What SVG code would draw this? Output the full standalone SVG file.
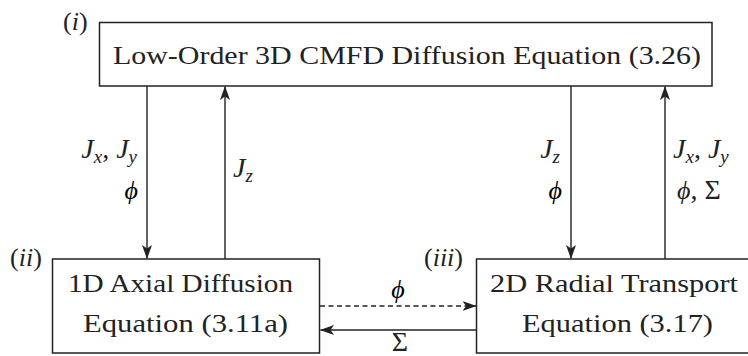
<svg xmlns="http://www.w3.org/2000/svg" width="748" height="356" viewBox="0 0 748 356">
<style>
  .box { fill: #fff; stroke: #222; stroke-width: 1.5; }
  .t { font-family: "Liberation Serif", "Times New Roman", serif; font-size: 26px; fill: #222; }
  .m { font-family: "Liberation Serif", "Times New Roman", serif; font-size: 28px; fill: #222; }
  .it { font-style: italic; }
  .sub { font-style: italic; font-size: 19px; }
  .phi { font-family: "Liberation Serif", "DejaVu Serif", serif; font-style: italic; font-size: 26px; }
  .conn { stroke: #222; stroke-width: 1.4; fill: none; }
  .dash { stroke-dasharray: 5 3.5; }
</style>
<defs>
  <marker id="ah" viewBox="0 0 14 12" markerWidth="14" markerHeight="12" refX="13.5" refY="6" orient="auto" markerUnits="userSpaceOnUse">
    <path d="M0,1 L14,6 L0,11 L3.5,6 Z" fill="#222"/>
  </marker>
</defs>

<g id="connectors">
  <line class="conn" x1="147" y1="86" x2="147" y2="258.5" marker-end="url(#ah)"/>
  <line class="conn" x1="225" y1="259" x2="225" y2="86.5" marker-end="url(#ah)"/>
  <line class="conn" x1="571" y1="86" x2="571" y2="258.5" marker-end="url(#ah)"/>
  <line class="conn" x1="665" y1="259" x2="665" y2="86.5" marker-end="url(#ah)"/>
  <line class="conn dash" x1="320" y1="306" x2="476" y2="306" marker-end="url(#ah)"/>
  <line class="conn" x1="476" y1="330" x2="320.5" y2="330" marker-end="url(#ah)"/>

  <text class="m" x="137" y="158" text-anchor="end"><tspan class="it">J</tspan><tspan class="sub" dy="5">x</tspan><tspan dy="-5">,  </tspan><tspan class="it">J</tspan><tspan class="sub" dy="5">y</tspan></text>
  <text class="phi" x="138" y="199" text-anchor="end">ϕ</text>
  <text class="m" x="233" y="177"><tspan class="it">J</tspan><tspan class="sub" dy="5">z</tspan></text>

  <text class="m" x="560" y="158" text-anchor="end"><tspan class="it">J</tspan><tspan class="sub" dy="5">z</tspan></text>
  <text class="phi" x="562" y="199" text-anchor="end">ϕ</text>
  <text class="m" x="673" y="158"><tspan class="it">J</tspan><tspan class="sub" dy="5">x</tspan><tspan dy="-5">,  </tspan><tspan class="it">J</tspan><tspan class="sub" dy="5">y</tspan></text>
  <text class="m" x="677" y="199"><tspan class="phi">ϕ</tspan><tspan>, Σ</tspan></text>

  <text class="phi" x="398" y="298" text-anchor="middle">ϕ</text>
  <text class="m" x="400" y="351" text-anchor="middle" font-size="26">Σ</text>
</g>

<g id="node-i">
  <rect class="box" x="99.5" y="22.5" width="612.5" height="63.5"/>
  <text class="t" x="113" y="64" textLength="588" lengthAdjust="spacingAndGlyphs">Low-Order 3D CMFD Diffusion Equation (3.26)</text>
  <text class="t" x="63" y="30" font-size="28">(<tspan class="it">i</tspan>)</text>
</g>

<g id="node-ii">
  <rect class="box" x="52.5" y="259" width="267" height="94"/>
  <text class="t" x="68" y="292" textLength="225" lengthAdjust="spacingAndGlyphs">1D Axial Diffusion</text>
  <text class="t" x="83" y="332" textLength="205" lengthAdjust="spacingAndGlyphs">Equation (3.11a)</text>
  <text class="t" x="10" y="266" font-size="28">(<tspan class="it">ii</tspan>)</text>
</g>

<g id="node-iii">
  <rect class="box" x="476.5" y="259" width="290" height="94"/>
  <text class="t" x="490" y="292" textLength="248" lengthAdjust="spacingAndGlyphs">2D Radial Transport</text>
  <text class="t" x="522" y="332" textLength="191" lengthAdjust="spacingAndGlyphs">Equation (3.17)</text>
  <text class="t" x="424" y="266" font-size="28">(<tspan class="it">iii</tspan>)</text>
</g>
</svg>
